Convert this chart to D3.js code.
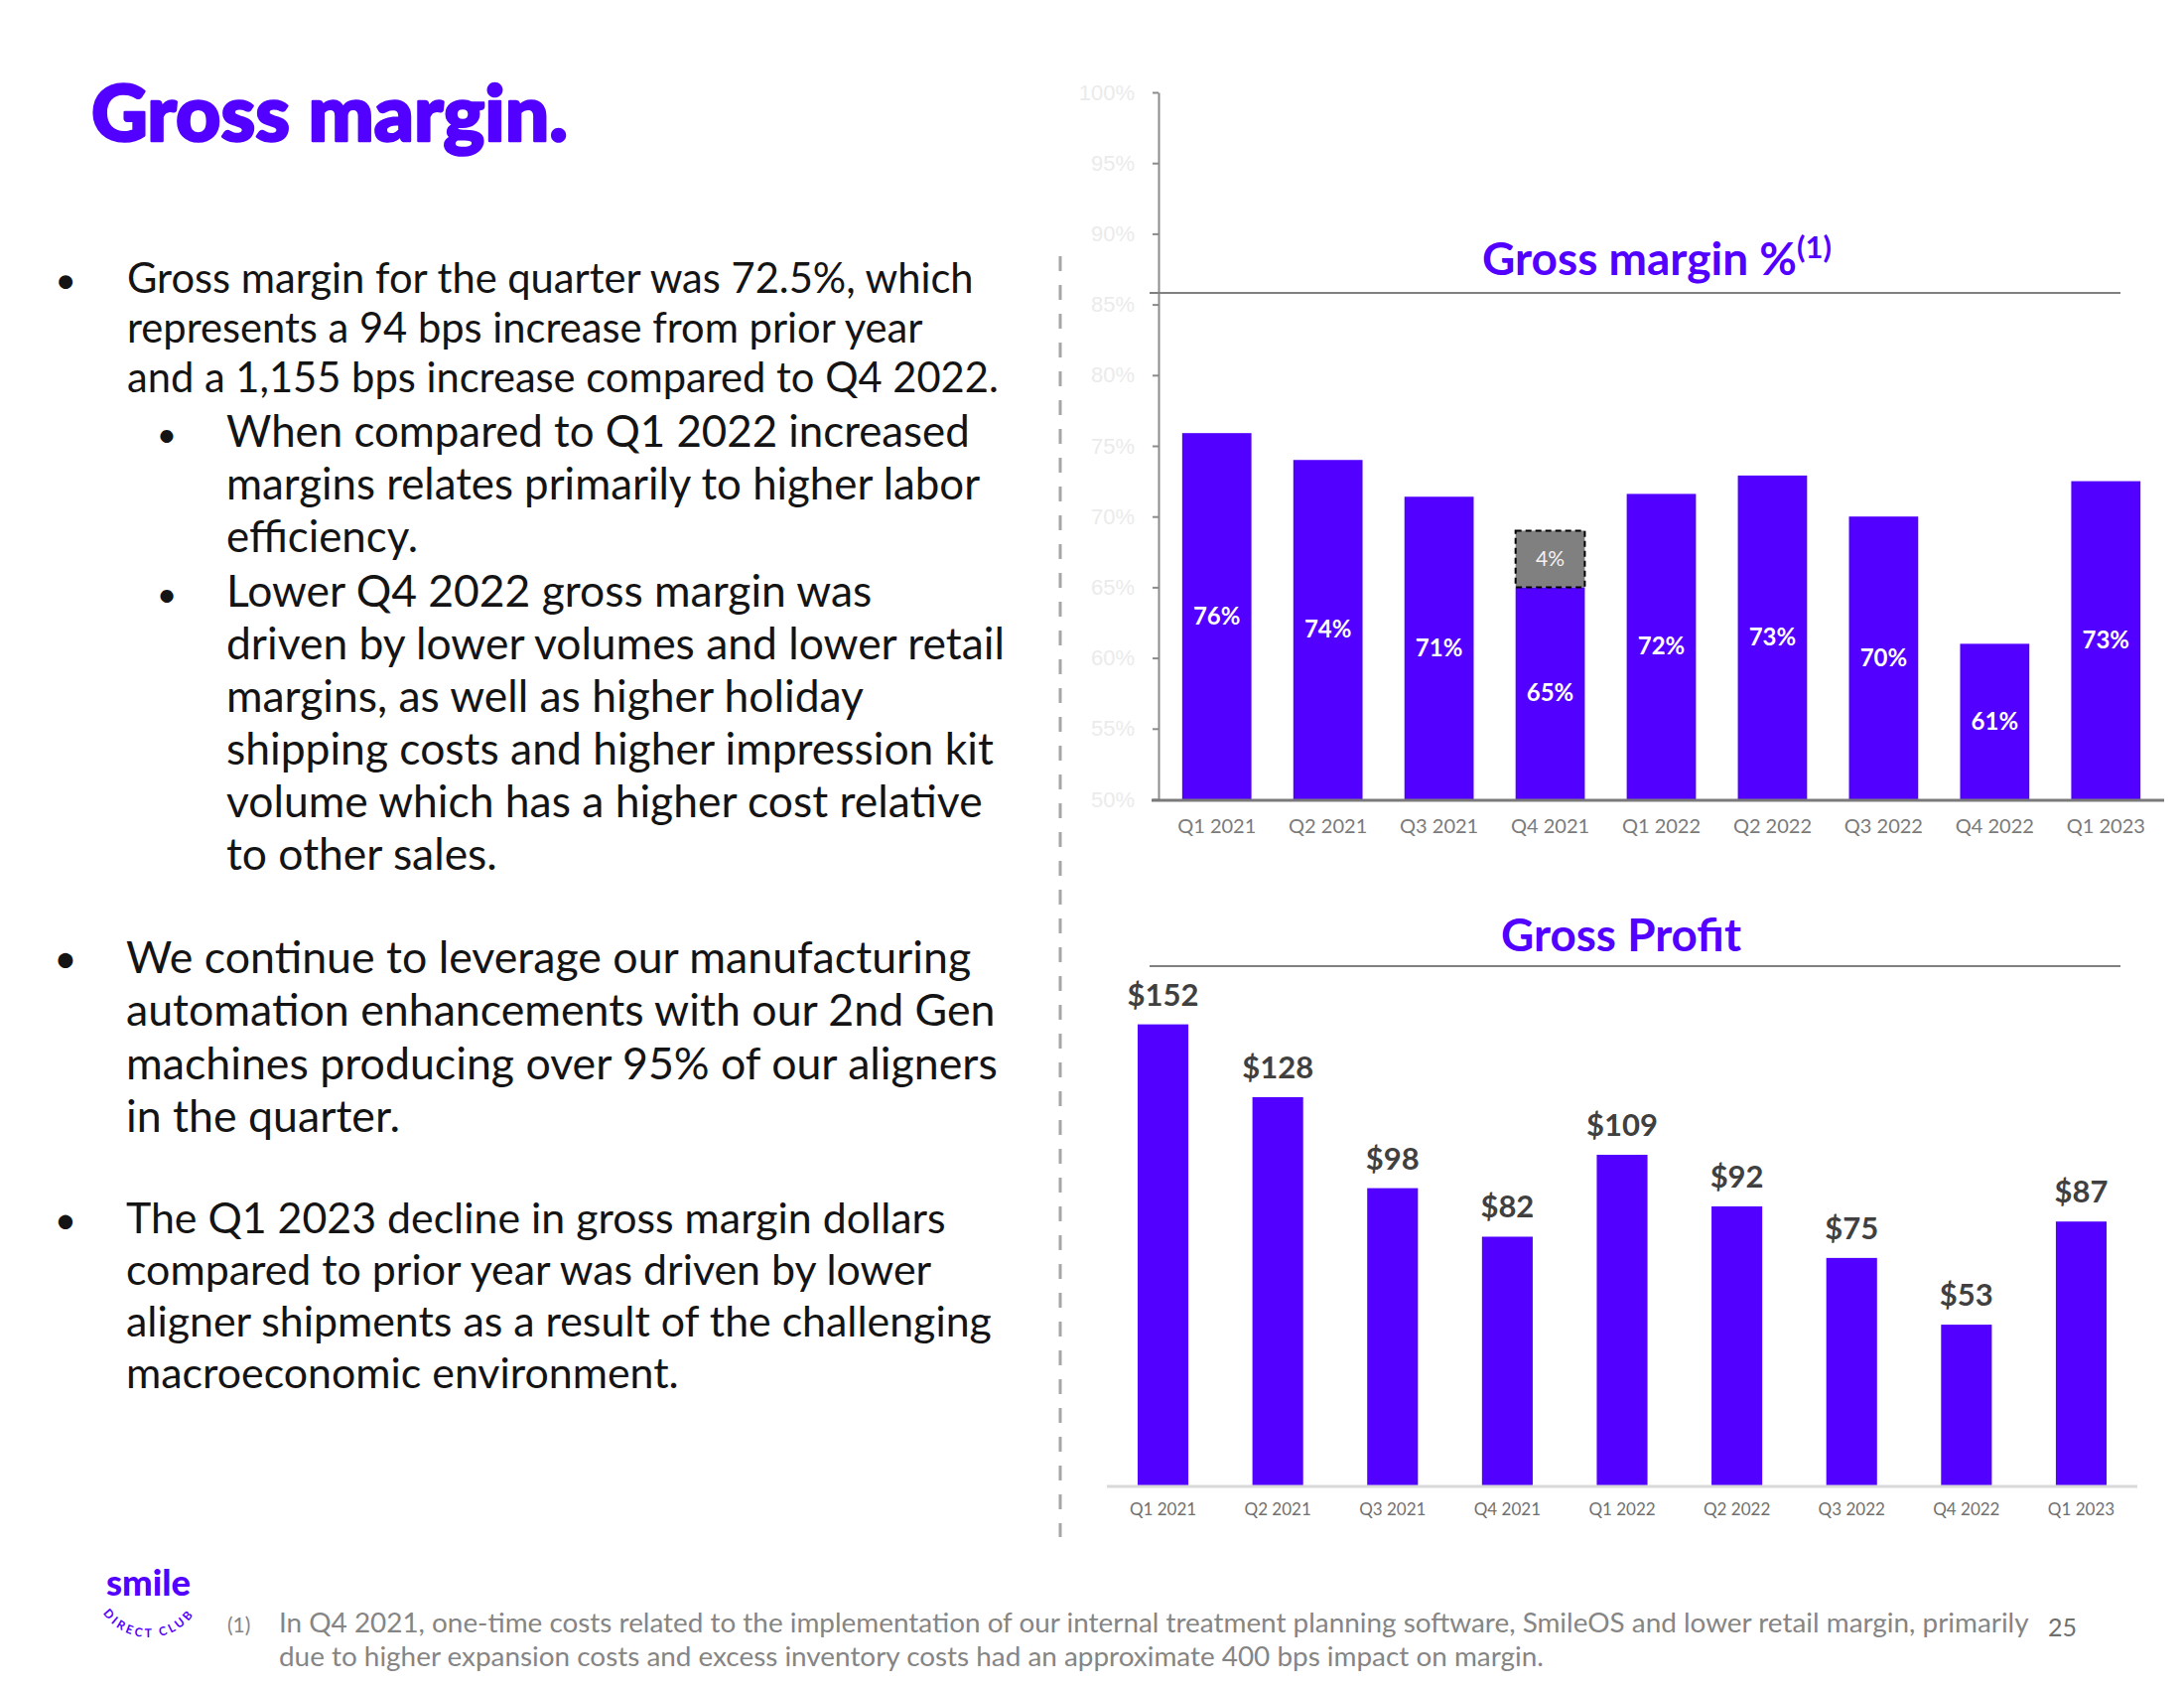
<!DOCTYPE html>
<html><head><meta charset="utf-8">
<script src="https://cdn.jsdelivr.net/npm/d3@7"></script>
<style>
html,body{margin:0;padding:0;background:#fff;}
svg{display:block;}
</style></head><body>
<script>
// ---------- data ----------
const quarters = ["Q1 2021","Q2 2021","Q3 2021","Q4 2021","Q1 2022","Q2 2022","Q3 2022","Q4 2022","Q1 2023"];
const marginPct = [75.9, 74.0, 71.4, 65.0, 71.6, 72.9, 70.0, 61.0, 72.5];
const oneTimeImpactPct = [0, 0, 0, 4, 0, 0, 0, 0, 0];
const grossProfit = [152, 128, 98, 82, 109, 92, 75, 53, 87];
const pctTicks = [50, 55, 60, 65, 70, 75, 80, 85, 90, 95, 100];

const bullet1 = ["Gross margin for the quarter was 72.5%, which",
  "represents a 94 bps increase from prior year",
  "and a 1,155 bps increase compared to Q4 2022."];
const sub1 = ["When compared to Q1 2022 increased",
  "margins relates primarily to higher labor",
  "efficiency."];
const sub2 = ["Lower Q4 2022 gross margin was",
  "driven by lower volumes and lower retail",
  "margins, as well as higher holiday",
  "shipping costs and higher impression kit",
  "volume which has a higher cost relative",
  "to other sales."];
const bullet2 = ["We continue to leverage our manufacturing",
  "automation enhancements with our 2nd Gen",
  "machines producing over 95% of our aligners",
  "in the quarter."];
const bullet3 = ["The Q1 2023 decline in gross margin dollars",
  "compared to prior year was driven by lower",
  "aligner shipments as a result of the challenging",
  "macroeconomic environment."];
const footnote = ["In Q4 2021, one-time costs related to the implementation of our internal treatment planning software, SmileOS and lower retail margin, primarily",
  "due to higher expansion costs and excess inventory costs had an approximate 400 bps impact on margin."];

// ---------- setup ----------
const W = 2200, H = 1700;
const PURPLE = "#5200FF";
const BODY_FONT = "Lato, 'Open Sans', sans-serif";
const svg = d3.select("body").append("svg").attr("width", W).attr("height", H)
  .style("font-family", BODY_FONT);
svg.append("rect").attr("width", W).attr("height", H).attr("fill", "#fff");

function fitSize(textSel, target) {
  const w = textSel.node().getComputedTextLength();
  const fs = parseFloat(textSel.attr("font-size"));
  return fs * target / w;
}

// ---------- slide title ----------
const title = svg.append("text").attr("x", 92).attr("y", 142)
  .attr("font-size", 66).attr("font-weight", 900).attr("fill", PURPLE)
  .attr("stroke", PURPLE).attr("stroke-width", 2.5).attr("stroke-linejoin", "round")
  .text("Gross margin.");
title.attr("font-size", fitSize(title, 480));

// ---------- bullets ----------
function paragraph(lines, x, baselines, refIdx, targetW, color) {
  const g = svg.append("g");
  const t = g.selectAll("text").data(lines).join("text")
    .attr("x", x).attr("y", (d, i) => baselines[i])
    .attr("font-size", 36).attr("fill", color || "#141414").text(d => d);
  const fs = fitSize(d3.select(t.nodes()[refIdx]), targetW);
  t.attr("font-size", fs);
  return fs;
}
function dot(x, y, fs) {
  svg.append("text").attr("x", x).attr("y", y).attr("text-anchor", "middle")
    .attr("font-size", fs).attr("fill", "#141414").text("•");
}
let fs;
fs = paragraph(bullet1, 128, [295, 345, 395], 0, 853);
dot(66, 295, fs * 0.9);
fs = paragraph(sub1, 228, [450, 503, 556], 0, 749);
dot(168, 450, fs * 0.8);
fs = paragraph(sub2, 228, [611, 664, 717, 770, 823, 876], 1, 784);
dot(168, 611, fs * 0.8);
fs = paragraph(bullet2, 127, [980, 1033, 1087, 1140], 2, 878);
dot(66, 980, fs * 0.9);
fs = paragraph(bullet3, 127, [1242, 1294, 1346, 1398], 2, 872);
dot(66, 1242, fs * 0.9);

// ---------- dashed separator ----------
svg.append("line").attr("x1", 1068).attr("x2", 1068).attr("y1", 258).attr("y2", 1548)
  .attr("stroke", "#a6a6a6").attr("stroke-width", 3).attr("stroke-dasharray", "15 14");

// ---------- top chart: gross margin % ----------
const xTop = d3.scaleBand().domain(quarters).range([1167, 2180])
  .paddingInner(0.377).paddingOuter(0.213);
const yTop = d3.scaleLinear().domain([50, 100]).range([805, 93]);

const gTop = svg.append("g");
const yAx = gTop.append("g").attr("transform", "translate(1167,0)")
  .call(d3.axisLeft(yTop).tickValues(pctTicks).tickFormat(d => d + "%")
    .tickSize(6).tickSizeOuter(0).tickPadding(18));
yAx.select(".domain").attr("stroke", "#8c8c8c").attr("stroke-width", 2);
yAx.selectAll(".tick line").attr("stroke", "#8c8c8c").attr("stroke-width", 2);
yAx.selectAll(".tick text").attr("font-size", 22).attr("fill", "#ebebeb")
  .attr("font-family", "'Liberation Sans', Arial, sans-serif");

const topData = quarters.map((q, i) => ({q, v: marginPct[i], adj: oneTimeImpactPct[i]}));
gTop.selectAll("rect.bar").data(topData).join("rect").attr("class", "bar")
  .attr("x", d => xTop(d.q)).attr("width", xTop.bandwidth())
  .attr("y", d => yTop(d.v)).attr("height", d => yTop(50) - yTop(d.v))
  .attr("fill", PURPLE);
gTop.selectAll("rect.adj").data(topData.filter(d => d.adj > 0)).join("rect").attr("class", "adj")
  .attr("x", d => xTop(d.q)).attr("width", xTop.bandwidth())
  .attr("y", d => yTop(d.v + d.adj)).attr("height", d => yTop(d.v) - yTop(d.v + d.adj))
  .attr("fill", "#808080").attr("stroke", "#000").attr("stroke-width", 2)
  .attr("stroke-dasharray", "6 4");
gTop.selectAll("text.adjlbl").data(topData.filter(d => d.adj > 0)).join("text").attr("class", "adjlbl")
  .attr("x", d => xTop(d.q) + xTop.bandwidth() / 2)
  .attr("y", d => (yTop(d.v) + yTop(d.v + d.adj)) / 2 + 7)
  .attr("text-anchor", "middle").attr("font-size", 21).attr("fill", "#f2f2f2")
  .text(d => d.adj + "%");
gTop.selectAll("text.val").data(topData).join("text").attr("class", "val")
  .attr("x", d => xTop(d.q) + xTop.bandwidth() / 2)
  .attr("y", d => (yTop(d.v) + yTop(50)) / 2 + 8)
  .attr("text-anchor", "middle").attr("font-size", 24).attr("font-weight", 700)
  .attr("fill", "#fff").text(d => Math.round(d.v) + "%");

gTop.append("line").attr("x1", 1160).attr("x2", 2180).attr("y1", 806).attr("y2", 806)
  .attr("stroke", "#7a7a7a").attr("stroke-width", 3);
const xAxTop = gTop.append("g").attr("transform", "translate(0,805)")
  .call(d3.axisBottom(xTop).tickSize(0));
xAxTop.select(".domain").remove();
xAxTop.selectAll(".tick text").attr("y", 34).attr("dy", 0)
  .attr("font-size", 20).attr("fill", "#7a7a7a").attr("font-family", BODY_FONT);

// chart title
const t1 = svg.append("text").attr("x", 1669).attr("y", 277).attr("text-anchor", "middle")
  .attr("font-weight", 700).attr("fill", PURPLE).attr("font-size", 40);
t1.append("tspan").text("Gross margin %");
t1.append("tspan").attr("font-size", 27).attr("dy", -15).text("(1)");
{
  const w = t1.node().getComputedTextLength();
  const k = 352 / w;
  t1.attr("font-size", 40 * k);
  t1.select("tspan:nth-child(2)").attr("font-size", 27 * k).attr("dy", -15 * k);
}
svg.append("line").attr("x1", 1158).attr("x2", 2136).attr("y1", 295).attr("y2", 295)
  .attr("stroke", "#808080").attr("stroke-width", 2);

// ---------- bottom chart: gross profit ----------
const xBot = d3.scaleBand().domain(quarters).range([1115, 2153])
  .paddingInner(0.558).paddingOuter(0.268);
const yBot = d3.scaleLinear().domain([0, 160]).range([1496, 1496 - 160 * 3.055]);
const gBot = svg.append("g");
const botData = quarters.map((q, i) => ({q, v: grossProfit[i]}));
gBot.selectAll("rect").data(botData).join("rect")
  .attr("x", d => xBot(d.q)).attr("width", xBot.bandwidth())
  .attr("y", d => yBot(d.v)).attr("height", d => yBot(0) - yBot(d.v))
  .attr("fill", PURPLE);
gBot.selectAll("text.val").data(botData).join("text").attr("class", "val")
  .attr("x", d => xBot(d.q) + xBot.bandwidth() / 2).attr("y", d => yBot(d.v) - 19)
  .attr("text-anchor", "middle").attr("font-size", 31).attr("font-weight", 700)
  .attr("fill", "#404040").text(d => "$" + d.v);
gBot.append("line").attr("x1", 1115).attr("x2", 2153).attr("y1", 1497).attr("y2", 1497)
  .attr("stroke", "#d9d9d9").attr("stroke-width", 3);
const xAxBot = gBot.append("g").attr("transform", "translate(0,1496)")
  .call(d3.axisBottom(xBot).tickSize(0));
xAxBot.select(".domain").remove();
xAxBot.selectAll(".tick text").attr("y", 30).attr("dy", 0)
  .attr("font-size", 17).attr("fill", "#707070").attr("font-family", BODY_FONT);

const t2 = svg.append("text").attr("x", 1633).attr("y", 958).attr("text-anchor", "middle")
  .attr("font-weight", 700).attr("fill", PURPLE).attr("font-size", 40).text("Gross Profit");
t2.attr("font-size", fitSize(t2, 242));
svg.append("line").attr("x1", 1158).attr("x2", 2136).attr("y1", 973).attr("y2", 973)
  .attr("stroke", "#808080").attr("stroke-width", 2);

// ---------- footnote ----------
svg.append("text").attr("x", 229).attr("y", 1644).attr("font-size", 21).attr("fill", "#858585").text("(1)");
const fn = svg.selectAll("text.fn").data(footnote).join("text").attr("class", "fn")
  .attr("x", 281).attr("y", (d, i) => [1644, 1678][i]).attr("font-size", 22)
  .attr("fill", "#858585").text(d => d);
const fnSize = fitSize(d3.select(fn.nodes()[0]), 1763);
fn.attr("font-size", fnSize);
svg.append("text").attr("x", 2063).attr("y", 1648).attr("font-size", 25).attr("fill", "#6f6f6f").text("25");

// ---------- logo ----------
const logo = svg.append("text").attr("x", 107).attr("y", 1607).attr("font-size", 32)
  .attr("font-weight", 900).attr("fill", PURPLE).text("smile");
logo.attr("font-size", fitSize(logo, 85));
const cx = 150, cy = 1593, r = 56;
svg.append("path").attr("id", "logoArc")
  .attr("d", `M${cx - r},${cy} A${r},${r} 0 0 0 ${cx + r},${cy}`)
  .attr("fill", "none");
svg.append("text").attr("font-size", 12).attr("font-weight", 700).attr("fill", PURPLE)
  .attr("letter-spacing", 3)
  .append("textPath").attr("href", "#logoArc").attr("startOffset", "50%")
  .attr("text-anchor", "middle").text("DIRECT CLUB");
</script>
</body></html>
